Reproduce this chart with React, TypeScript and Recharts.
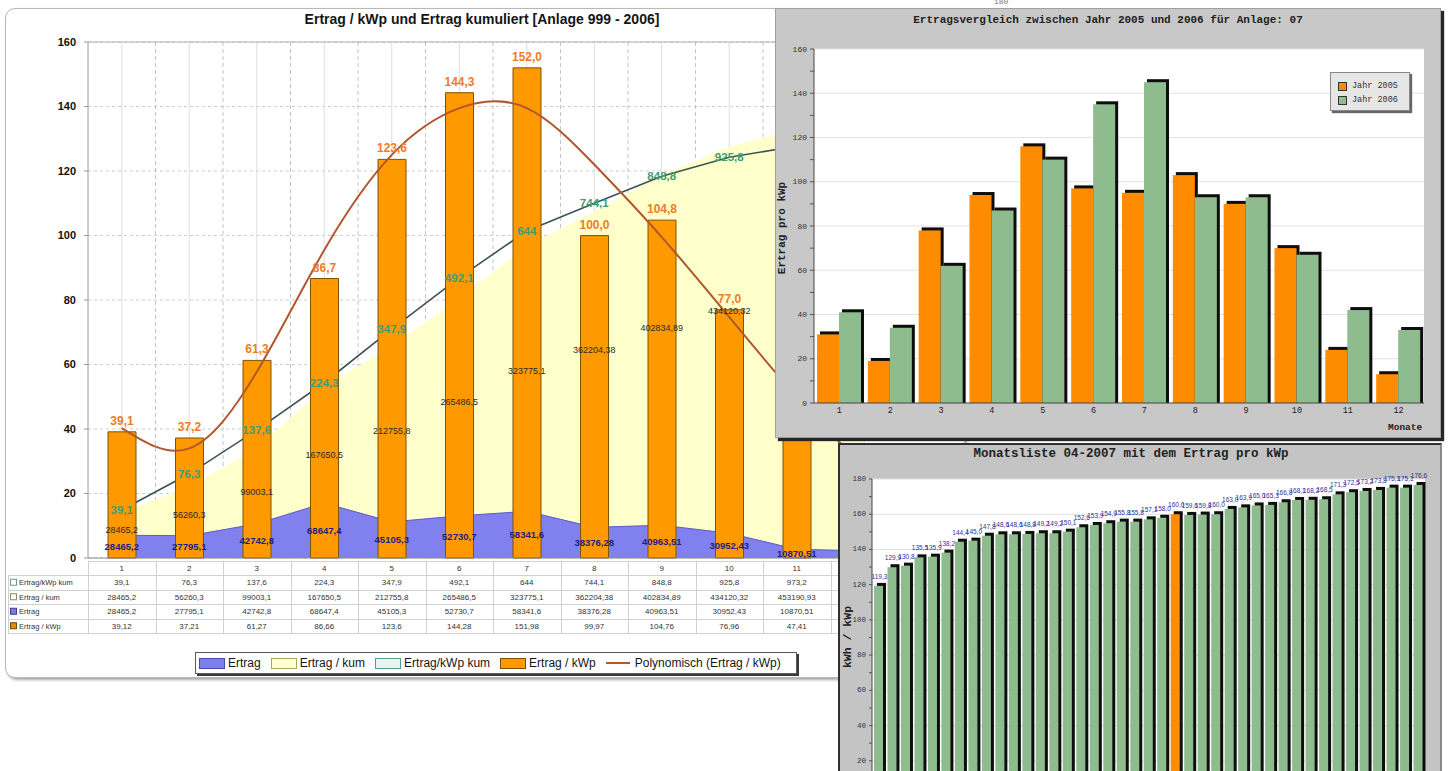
import React from 'react';
import {
  ComposedChart,
  BarChart,
  Bar,
  Line,
  Area,
  XAxis,
  YAxis,
  CartesianGrid,
  LabelList,
  ReferenceLine,
} from 'recharts';

const SANS = '"Liberation Sans", Arial, sans-serif';
const MONO = '"Liberation Mono", "DejaVu Sans Mono", monospace';

// ---------------- main chart data ----------------
const months = ['1', '2', '3', '4', '5', '6', '7', '8', '9', '10', '11', '12'];
const visibleMonths = 11; // month 12 lies under the overlapping windows
const ertragProKwp = [39.12, 37.21, 61.27, 86.66, 123.6, 144.28, 151.98, 99.97, 104.76, 76.96, 47.41, null];
const ertragKwpKum = [39.1, 76.3, 137.6, 224.3, 347.9, 492.1, 644, 744.1, 848.8, 925.8, 973.2, 985.2];
const ertragKum = [28465.2, 56260.3, 99003.1, 167650.5, 212755.8, 265486.5, 323775.1, 362204.38, 402834.89, 434120.32, 453190.93, 462190.93];
const ertrag = [28465.2, 27795.1, 42742.8, 68647.4, 45105.3, 52730.7, 58341.6, 38376.28, 40963.51, 30952.43, 10870.51, 9000];
const polynom = [40.3, 34.0, 57.7, 95.5, 125, 139.5, 139.5, 122, 99.5, 74.7, 50, 28];
const mainTicks = [0, 20, 40, 60, 80, 100, 120, 140, 160];
const mainTitle = 'Ertrag / kWp und Ertrag kumuliert [Anlage 999 - 2006]';

// ---------------- comparison chart data ----------------
const cmpMonths = ['1', '2', '3', '4', '5', '6', '7', '8', '9', '10', '11', '12'];
const jahr2005 = [31, 19, 78, 94, 116, 97, 95, 103, 90, 70, 24, 13];
const jahr2006 = [41, 34, 62, 87, 110, 135, 145, 93, 93, 67, 42, 33];
const cmpTicks = [0, 10, 20, 30, 40, 50, 60, 70, 80, 90, 100, 110, 120, 130, 140, 150, 160];
const cmpTitle = 'Ertragsvergleich zwischen Jahr 2005 und 2006 für Anlage: 07';

// ---------------- ranking chart data ----------------
const rankValues = [119.3, 129.9, 130.8, 135.5, 135.9, 138.2, 144.4, 145.0, 147.8, 148.6, 148.6, 148.8, 149.2, 149.2, 150.1, 152.6, 153.9, 154.9, 155.8, 155.8, 157.1, 158.0, 160.0, 159.6, 159.8, 160.0, 163.0, 163.9, 165.0, 165.3, 166.8, 168.1, 168.2, 168.5, 171.3, 172.5, 173.2, 173.8, 175.1, 175.1, 176.6];
const highlightRank = 23;
const rankTicks = [0, 10, 20, 30, 40, 50, 60, 70, 80, 90, 100, 110, 120, 130, 140, 150, 160, 170, 180];
const rankTitle = 'Monatsliste 04-2007 mit dem Ertrag pro kWp';

// ---------------- helpers ----------------
const fmtComma = (v: number | null | undefined) => (v == null ? '' : String(v).replace('.', ','));
const fmt1 = (v: number | null | undefined) => (v == null ? '' : Number(v).toFixed(1).replace('.', ','));

const mainData = months.map((m, i) => ({
  month: m,
  kwp: ertragProKwp[i],
  kwpKum: ertragKwpKum[i],
  kum: ertragKum[i],
  ertrag: ertrag[i],
  poly: polynom[i],
}));
const cmpData = cmpMonths.map((m, i) => ({ month: m, y2005: jahr2005[i], y2006: jahr2006[i] }));
const rankData = rankValues.map((v, i) => ({ rank: String(i + 1), value: v }));

// layout of main chart
const MAIN_W = 970;
const MAIN_H = 568;
const MAIN_M = { top: 42, right: 72, left: 48, bottom: 10 };
const Y_W = 40;
const PLOT_L = MAIN_M.left + Y_W;
const PLOT_R = MAIN_W - MAIN_M.right;
const PLOT_B = MAIN_H - MAIN_M.bottom;
const COL_W = (PLOT_R - PLOT_L) / months.length;

const TABLE_TOP = 561;
const HEAD_H = 14;
const ROW_H = 14.5;
const TABLE_LEFT = 8;

const ShadowBar = (props: any) => {
  const { x, y, width, height, fill, shadow } = props;
  if (height == null || height <= 0) return <g />;
  const s = shadow ?? 3;
  return (
    <g>
      <rect x={x + s} y={y - s} width={width} height={height + s} fill="#0e0e0e" />
      <rect x={x} y={y} width={width} height={height} fill={fill} />
    </g>
  );
};

// y tick that only writes a label on major (every 20) ticks
const majorTick = (size: number) => (props: any) => {
  const { x, y, payload, textAnchor } = props;
  const v = payload && payload.value;
  if (v == null || v % 20 !== 0) return <g />;
  return (
    <text x={x} y={y} textAnchor={textAnchor || 'end'} dominantBaseline="central" fontSize={size} fill="#333" fontFamily={MONO}>
      {String(v)}
    </text>
  );
};

const midLabel = (frac: number, color: string, size: number, weight: string | number) => (props: any) => {
  const { x, y, value, index } = props;
  if (value == null || x == null || y == null || isNaN(y)) return null;
  if (index != null && index >= visibleMonths) return null;
  const ly = PLOT_B - frac * (PLOT_B - y);
  return (
    <text x={x} y={ly} textAnchor="middle" dominantBaseline="central" fill={color} fontSize={size} fontWeight={weight} fontFamily={SANS}>
      {fmtComma(value)}
    </text>
  );
};

function MainChart() {
  return (
    <ComposedChart width={MAIN_W} height={MAIN_H} data={mainData} margin={MAIN_M}>
      <CartesianGrid vertical={false} stroke="#cdcdcd" strokeDasharray="3 3" />
      <CartesianGrid
        horizontal={false}
        stroke="#dedede"
        verticalCoordinatesGenerator={(a: any) => {
          const o = a && a.offset;
          if (!o) return [];
          return months.map((_, i) => o.left + ((i + 0.5) * o.width) / months.length);
        }}
      />
      <CartesianGrid
        horizontal={false}
        stroke="#c4c4c4"
        strokeDasharray="4 3"
        verticalCoordinatesGenerator={(a: any) => {
          const o = a && a.offset;
          if (!o) return [];
          return months.slice(1).map((_, i) => o.left + ((i + 1) * o.width) / months.length);
        }}
      />
      <XAxis dataKey="month" hide />
      <YAxis
        domain={[0, 160]}
        ticks={mainTicks}
        interval={0}
        width={Y_W}
        tickSize={4}
        tickMargin={8}
        axisLine={{ stroke: '#9a9a9a' }}
        tickLine={{ stroke: '#9a9a9a' }}
        tick={{ fontSize: 11, fontWeight: 'bold', fill: '#111', fontFamily: SANS }}
      />
      <YAxis yAxisId="kum" hide type="number" domain={[-22500, 550300]} allowDataOverflow />
      <YAxis yAxisId="ertrag" hide type="number" domain={[0, 645000]} allowDataOverflow />
      <YAxis yAxisId="kwpkum" hide type="number" scale="sqrt" domain={[8.8, 1469]} allowDataOverflow />

      <Area yAxisId="kum" dataKey="kum" type="linear" baseValue="dataMin" fill="#ffffcc" fillOpacity={1} stroke="none" isAnimationActive={false} dot={false} activeDot={false} />
      <Area yAxisId="ertrag" dataKey="ertrag" type="linear" fill="#8080ee" fillOpacity={1} stroke="#5a5ac4" strokeWidth={1} isAnimationActive={false} dot={false} activeDot={false} />
      <Area yAxisId="kwpkum" dataKey="kwpKum" type="linear" fill="none" fillOpacity={0} stroke="#3d5552" strokeWidth={1.6} dot={false} activeDot={false} isAnimationActive={false} />

      <Bar dataKey="kwp" barSize={28} fill="#ff9900" stroke="#7d5200" strokeWidth={1} isAnimationActive={false}>
        <LabelList dataKey="kwp" position="top" offset={7} formatter={(v: any) => fmt1(v)} fill="#f07a28" fontSize={12} fontWeight="bold" fontFamily={SANS} />
      </Bar>
      <Line dataKey="poly" type="natural" stroke="#b2562c" strokeWidth={2} dot={false} activeDot={false} isAnimationActive={false} />
      <ReferenceLine y={160} stroke="#b0b0b0" />
      <ReferenceLine y={0} stroke="#8a8a8a" />

      <Line yAxisId="kum" dataKey="kum" stroke="none" dot={false} activeDot={false} isAnimationActive={false} legendType="none">
        <LabelList dataKey="kum" content={midLabel(0.6, '#2a2a2a', 9, 'normal')} />
      </Line>
      <Line yAxisId="ertrag" dataKey="ertrag" stroke="none" dot={false} activeDot={false} isAnimationActive={false} legendType="none">
        <LabelList dataKey="ertrag" content={midLabel(0.5, '#1d1d86', 9.5, 'bold')} />
      </Line>
      <Line yAxisId="kwpkum" dataKey="kwpKum" stroke="none" dot={false} activeDot={false} isAnimationActive={false} legendType="none">
        <LabelList dataKey="kwpKum" content={midLabel(1, '#3e9c78', 11.5, 'bold')} />
      </Line>
    </ComposedChart>
  );
}

function DataTable() {
  const rows = [
    { name: 'Ertrag/kWp kum', values: ertragKwpKum, fill: '#ffffff', border: '#6a9a8e' },
    { name: 'Ertrag / kum', values: ertragKum, fill: '#ffffee', border: '#8a8a70' },
    { name: 'Ertrag', values: ertrag, fill: '#7b7be6', border: '#3c3c90' },
    { name: 'Ertrag / kWp', values: ertragProKwp, fill: '#e08a10', border: '#6a4a00' },
  ];
  const right = PLOT_L + COL_W * months.length;
  const yRows = TABLE_TOP + HEAD_H;
  const bottom = yRows + ROW_H * rows.length;
  const hLines = [TABLE_TOP, yRows, ...rows.map((_, i) => yRows + ROW_H * (i + 1))];
  return (
    <svg style={{ position: 'absolute', left: 0, top: 0 }} width={MAIN_W} height={660}>
      <g stroke="#d0d0d0" strokeWidth={1}>
        {hLines.map((y, i) => (
          <line key={'h' + i} x1={i === 0 ? PLOT_L : TABLE_LEFT} x2={right} y1={Math.round(y) + 0.5} y2={Math.round(y) + 0.5} />
        ))}
        <line x1={TABLE_LEFT + 0.5} x2={TABLE_LEFT + 0.5} y1={yRows} y2={bottom} />
        {months.map((_, i) => (
          <line key={'v' + i} x1={Math.round(PLOT_L + i * COL_W) + 0.5} x2={Math.round(PLOT_L + i * COL_W) + 0.5} y1={TABLE_TOP} y2={bottom} />
        ))}
      </g>
      {months.slice(0, visibleMonths).map((m, i) => (
        <text key={'m' + i} x={PLOT_L + (i + 0.5) * COL_W} y={TABLE_TOP + HEAD_H / 2 + 0.5} textAnchor="middle" dominantBaseline="central" fontSize={8} fill="#333" fontFamily={SANS}>
          {m}
        </text>
      ))}
      {rows.map((r, ri) => {
        const cy = yRows + ROW_H * (ri + 0.5);
        return (
          <g key={'r' + ri}>
            <rect x={TABLE_LEFT + 2.5} y={cy - 3} width={6} height={6} fill={r.fill} stroke={r.border} strokeWidth={1} />
            <text x={TABLE_LEFT + 11} y={cy + 0.5} dominantBaseline="central" fontSize={7.5} fill="#333" fontFamily={SANS}>
              {r.name}
            </text>
            {r.values.slice(0, visibleMonths).map((v, i) => (
              <text key={i} x={PLOT_L + (i + 0.5) * COL_W} y={cy + 0.5} textAnchor="middle" dominantBaseline="central" fontSize={8} fill="#333" fontFamily={SANS}>
                {fmtComma(v)}
              </text>
            ))}
          </g>
        );
      })}
    </svg>
  );
}

function MainLegend() {
  const items = [
    { label: 'Ertrag', kind: 'box', fill: '#7f7fec', stroke: '#4a4aa8' },
    { label: 'Ertrag / kum', kind: 'box', fill: '#ffffd2', stroke: '#a8a860' },
    { label: 'Ertrag/kWp kum', kind: 'box', fill: '#e6f5ef', stroke: '#4f9f8f' },
    { label: 'Ertrag / kWp', kind: 'box', fill: '#ff9900', stroke: '#7a4f00' },
    { label: 'Polynomisch (Ertrag / kWp)', kind: 'line', fill: 'none', stroke: '#b2562c' },
  ];
  return (
    <div
      style={{
        position: 'absolute',
        left: 195,
        top: 652,
        width: 602,
        height: 22,
        boxSizing: 'border-box',
        border: '1px solid #5a5a5a',
        boxShadow: '2px 2px 0 #3a3a3a',
        background: '#fff',
        display: 'flex',
        alignItems: 'center',
        paddingLeft: 3,
        fontFamily: SANS,
        fontSize: 12,
        color: '#151515',
        whiteSpace: 'nowrap',
      }}
    >
      {items.map((it, i) => (
        <div key={i} style={{ display: 'flex', alignItems: 'center', marginRight: 10 }}>
          {it.kind === 'box' ? (
            <div style={{ width: 24, height: 9, background: it.fill, border: `1px solid ${it.stroke}`, marginRight: 3 }} />
          ) : (
            <div style={{ width: 24, height: 0, borderTop: `2px solid ${it.stroke}`, marginRight: 5 }} />
          )}
          <span>{it.label}</span>
        </div>
      ))}
    </div>
  );
}

function MainPanel() {
  return (
    <>
      <div
        style={{
          position: 'absolute',
          left: 5,
          top: 8,
          width: 958,
          height: 668,
          border: '1px solid #b8b8b8',
          borderRadius: 10,
          boxShadow: '2px 2px 3px rgba(0,0,0,0.35)',
          background: '#fff',
        }}
      />
      <div style={{ position: 'absolute', left: 0, top: 11, width: 964, textAlign: 'center', fontFamily: SANS, fontSize: 14, fontWeight: 'bold', color: '#151515' }}>
        {mainTitle}
      </div>
      <div style={{ position: 'absolute', left: 0, top: 0 }}>
        <MainChart />
      </div>
      <DataTable />
      <MainLegend />
    </>
  );
}

function CompareChart() {
  const W = 664;
  const H = 428;
  const majors = [20, 40, 60, 80, 100, 120, 140, 160];
  return (
    <div
      style={{
        position: 'absolute',
        left: 775,
        top: 8,
        width: W,
        height: H,
        background: '#c8c8c8',
        border: '1px solid #a0a0a0',
        boxShadow: '3px 3px 1px #262626',
      }}
    >
      <div style={{ position: 'absolute', left: 0, top: 5, width: W, textAlign: 'center', fontFamily: MONO, fontSize: 11, fontWeight: 'bold', color: '#222' }}>
        {cmpTitle}
      </div>
      <div style={{ position: 'absolute', left: 0, top: 0 }}>
        <BarChart width={W} height={H} data={cmpData} margin={{ top: 40, right: 16, left: 0, bottom: 14 }} barGap={0}>
          <CartesianGrid
            fill="#ffffff"
            vertical={false}
            stroke="#e2e2e2"
            horizontalCoordinatesGenerator={(a: any) => {
              const o = a && a.offset;
              if (!o) return [];
              return majors.map((v) => o.top + o.height * (1 - v / 160));
            }}
          />
          <XAxis dataKey="month" height={20} tickLine={false} tickSize={0} tickMargin={4} axisLine={{ stroke: '#444' }} tick={{ fontSize: 8.5, fill: '#222', fontFamily: MONO }} />
          <YAxis
            domain={[0, 160]}
            ticks={cmpTicks}
            interval={0}
            width={38}
            tickSize={4}
            tickMargin={3}
            axisLine={{ stroke: '#444' }}
            tickLine={{ stroke: '#555' }}
            tick={majorTick(8)}
          />
          <Bar dataKey="y2005" fill="#ff8c00" barSize={22} isAnimationActive={false} shape={(p: any) => <ShadowBar {...p} shadow={3} />} />
          <Bar dataKey="y2006" fill="#8fbc8f" barSize={22} isAnimationActive={false} shape={(p: any) => <ShadowBar {...p} shadow={3} />} />
        </BarChart>
      </div>
      <div
        style={{
          position: 'absolute',
          left: 6,
          top: 219,
          transform: 'translate(-50%, -50%) rotate(-90deg)',
          whiteSpace: 'nowrap',
          fontFamily: MONO,
          fontSize: 11,
          fontWeight: 'bold',
          color: '#222',
        }}
      >
        Ertrag pro kWp
      </div>
      <div style={{ position: 'absolute', left: 612, top: 413, fontFamily: MONO, fontSize: 9.5, fontWeight: 'bold', color: '#222' }}>Monate</div>
      <div
        style={{
          position: 'absolute',
          left: 554,
          top: 63,
          width: 80,
          height: 39,
          boxSizing: 'border-box',
          background: '#e6e6e6',
          border: '1px solid #8a8a8a',
          boxShadow: '2px 2px 1px #666',
          fontFamily: MONO,
          fontSize: 8.5,
          color: '#333',
          padding: '6px 0 0 7px',
        }}
      >
        <div style={{ display: 'flex', alignItems: 'center', height: 14 }}>
          <div style={{ width: 7, height: 7, background: '#ff8c00', border: '1px solid #333', marginRight: 5 }} />
          Jahr 2005
        </div>
        <div style={{ display: 'flex', alignItems: 'center', height: 14 }}>
          <div style={{ width: 7, height: 7, background: '#8fbc8f', border: '1px solid #333', marginRight: 5 }} />
          Jahr 2006
        </div>
      </div>
    </div>
  );
}

function RankingChart() {
  const W = 600;
  const H = 400;
  const majors = [20, 40, 60, 80, 100, 120, 140, 160, 180];
  return (
    <div
      style={{
        position: 'absolute',
        left: 838,
        top: 443,
        width: W,
        height: H,
        background: '#c4c4c4',
        borderTop: '2px solid #303030',
        borderLeft: '2px solid #303030',
        borderRight: '2px solid #8a8a8a',
      }}
    >
      <div style={{ position: 'absolute', left: -9, top: 2, width: W, textAlign: 'center', fontFamily: MONO, fontSize: 12.5, fontWeight: 'bold', color: '#222' }}>
        {rankTitle}
      </div>
      <div style={{ position: 'absolute', left: 0, top: 0 }}>
        <BarChart width={W} height={H} data={rankData} margin={{ top: 34, right: 15, left: 0, bottom: 49 }} barGap={0}>
          <CartesianGrid
            fill="#ffffff"
            vertical={false}
            stroke="#e0e0e0"
            horizontalCoordinatesGenerator={(a: any) => {
              const o = a && a.offset;
              if (!o) return [];
              return majors.map((v) => o.top + o.height * (1 - v / 180));
            }}
          />
          <XAxis dataKey="rank" hide />
          <YAxis
            domain={[0, 180]}
            ticks={rankTicks}
            interval={0}
            width={32}
            tickSize={3}
            tickMargin={3}
            axisLine={{ stroke: '#444' }}
            tickLine={{ stroke: '#555' }}
            tick={majorTick(7.5)}
          />
          <Bar
            dataKey="value"
            barSize={9}
            fill="#8fbc8f"
            isAnimationActive={false}
            shape={(p: any) => <ShadowBar {...p} shadow={3} fill={p.index === highlightRank - 1 ? '#ff8c00' : '#8fbc8f'} />}
          >
            <LabelList
              dataKey="value"
              content={(p: any) => {
                const { x, y, width, value } = p;
                if (value == null) return null;
                return (
                  <text x={x + width / 2 + 1} y={y - 7} textAnchor="middle" fontSize={6.5} fill="#30309a" fontFamily={SANS}>
                    {fmt1(value)}
                  </text>
                );
              }}
            />
          </Bar>
        </BarChart>
      </div>
      <div
        style={{
          position: 'absolute',
          left: 7,
          top: 192,
          transform: 'translate(-50%, -50%) rotate(-90deg)',
          whiteSpace: 'nowrap',
          fontFamily: MONO,
          fontSize: 11.5,
          fontWeight: 'bold',
          color: '#222',
        }}
      >
        kWh / kWp
      </div>
    </div>
  );
}

export default function App() {
  return (
    <div style={{ position: 'fixed', left: 0, top: 0, width: 1448, height: 771, overflow: 'hidden', background: '#fff', fontFamily: SANS }}>
      <div style={{ position: 'absolute', left: 994, top: -3, fontFamily: MONO, fontSize: 8, color: '#777' }}>180</div>
      <MainPanel />
      <CompareChart />
      <RankingChart />
    </div>
  );
}
